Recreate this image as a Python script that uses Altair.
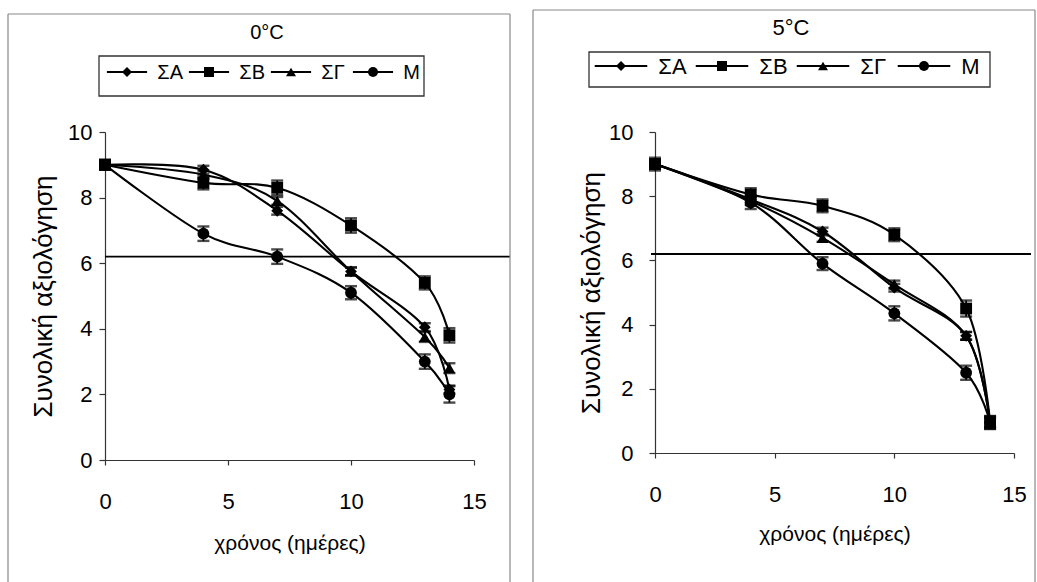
import altair as alt
import pandas as pd

# ---------------- data ----------------
days = [0, 4, 7, 10, 13, 14]
series = ["ΣΑ", "ΣΒ", "ΣΓ", "Μ"]
shapes = ["diamond", "square", "triangle-up", "circle"]

# 0 °C
sa_0 = [9.0, 8.85, 7.6, 5.75, 4.05, 2.15]
sb_0 = [9.0, 8.45, 8.3, 7.15, 5.4, 3.8]
sg_0 = [9.0, 8.7, 7.9, 5.75, 3.75, 2.8]
m_0 = [9.0, 6.9, 6.2, 5.1, 3.0, 2.0]
err_sa_0 = [0.1, 0.12, 0.12, 0.12, 0.12, 0.12]
err_sb_0 = [0.15, 0.2, 0.22, 0.22, 0.2, 0.22]
err_sg_0 = [0.1, 0.12, 0.12, 0.12, 0.15, 0.15]
err_m_0 = [0.15, 0.22, 0.22, 0.2, 0.22, 0.25]

# 5 °C
sa_5 = [9.0, 7.9, 6.9, 5.15, 3.65, 0.95]
sb_5 = [9.0, 8.05, 7.7, 6.8, 4.5, 0.95]
sg_5 = [9.0, 7.85, 6.7, 5.25, 3.65, 0.95]
m_5 = [9.0, 7.8, 5.9, 4.35, 2.5, 0.95]
err_sa_5 = [0.1, 0.12, 0.12, 0.12, 0.12, 0.15]
err_sb_5 = [0.2, 0.2, 0.2, 0.2, 0.25, 0.2]
err_sg_5 = [0.1, 0.12, 0.12, 0.12, 0.12, 0.15]
err_m_5 = [0.15, 0.2, 0.2, 0.22, 0.22, 0.2]

threshold = 6.2
x_ticks = [0, 5, 10, 15]
y_ticks = [0, 2, 4, 6, 8, 10]
x_title = "χρόνος (ημέρες)"
y_title = "Συνολική αξιολόγηση"

FONT = "Liberation Sans"
INK = "#000000"


def long_df(vals, errs):
    rows = []
    for s, v, e in zip(series, vals, errs):
        for d, y, er in zip(days, v, e):
            rows.append({"day": d, "series": s, "value": y, "lo": y - er, "hi": y + er})
    return pd.DataFrame(rows)


legend_df = pd.DataFrame({"name": series, "i": list(range(len(series)))})

shape_scale = alt.Scale(domain=series, range=shapes)


def panel(vals, errs, g):
    df = long_df(vals, errs)
    xax = alt.Axis(values=x_ticks, title=x_title, grid=False, tickSize=5,
                   labelPadding=g["xlabpad"], titlePadding=g["xtitpad"], labelFlush=False,
                   titleFontSize=21)
    yax = alt.Axis(values=y_ticks, title=y_title, grid=False, tickSize=6,
                   labelPadding=g["ylabpad"], titlePadding=g["ytitpad"], titleFontSize=26)
    X = alt.X("day:Q", scale=alt.Scale(domain=[0, 15], nice=False), axis=xax)
    Y = alt.Y("value:Q", scale=alt.Scale(domain=[0, 10], nice=False), axis=yax)
    Ylo = alt.Y("lo:Q", scale=alt.Scale(domain=[0, 10], nice=False), axis=yax)
    Yhi = alt.Y("hi:Q", scale=alt.Scale(domain=[0, 10], nice=False), axis=yax)

    base = alt.Chart(df)
    lines = base.mark_line(interpolate="cardinal", color="black", strokeWidth=2.1).encode(
        x=X, y=Y, detail="series:N")
    bars = base.mark_rule(color="black", strokeWidth=1.8).encode(x=X, y=Ylo, y2="hi:Q")
    cap_lo = base.mark_tick(orient="horizontal", color="black", size=12, thickness=2.4).encode(x=X, y=Ylo)
    cap_hi = base.mark_tick(orient="horizontal", color="black", size=12, thickness=2.4).encode(x=X, y=Yhi)
    pts = base.mark_point(filled=True, color="black", opacity=1, size=140).encode(
        x=X, y=Y, shape=alt.Shape("series:N", scale=shape_scale, legend=None))
    thr = alt.Chart(pd.DataFrame({"t": [threshold]})).mark_rule(color="black", strokeWidth=1.9).encode(
        y=alt.Y("t:Q", scale=alt.Scale(domain=[0, 10], nice=False), axis=yax),
        x=alt.value(g["thr_x0"]), x2=alt.value(g["thr_x1"]))
    main = alt.layer(lines, bars, cap_lo, cap_hi, pts, thr)

    # custom legend (line-marker-line + label)
    lsc = alt.Scale(domain=[0, 3], range=[g["leg_m0"], g["leg_m3"]])
    lb = alt.Chart(legend_df).transform_calculate(
        l=f"datum.i - {g['leg_half']}", r=f"datum.i + {g['leg_half']}", t=f"datum.i + {g['leg_txt']}")
    lrule = lb.mark_rule(color="black", strokeWidth=1.8).encode(
        x=alt.X("l:Q", scale=lsc, axis=None), x2="r:Q", y=alt.value(g["leg_y"]))
    lpts = lb.mark_point(filled=True, color="black", opacity=1, size=100).encode(
        x=alt.X("i:Q", scale=lsc, axis=None), y=alt.value(g["leg_y"]),
        shape=alt.Shape("name:N", scale=shape_scale, legend=None))
    ltxt = lb.mark_text(align="left", baseline="middle", font=FONT, fontSize=g["leg_fs"], color=INK).encode(
        x=alt.X("t:Q", scale=lsc, axis=None), y=alt.value(g["leg_y"] + 1), text="name:N")
    legend = alt.layer(lrule, lpts, ltxt)

    one = alt.Chart(pd.DataFrame({"k": [0]}))
    box = one.mark_rect(fillOpacity=0, stroke="#333333", strokeWidth=1.3).encode(
        x=alt.value(g["box"][0]), x2=alt.value(g["box"][1]),
        y=alt.value(g["box"][2]), y2=alt.value(g["box"][3]))
    b = g["border"]
    fr_top = one.mark_rule(color="#888888", strokeWidth=1.2).encode(
        x=alt.value(b[0]), x2=alt.value(b[1]), y=alt.value(b[2]), y2=alt.value(b[2]))
    fr_l = one.mark_rule(color="#888888", strokeWidth=1.2).encode(
        x=alt.value(b[0]), x2=alt.value(b[0]), y=alt.value(b[2]), y2=alt.value(b[3]))
    fr_r = one.mark_rule(color="#888888", strokeWidth=1.2).encode(
        x=alt.value(b[1]), x2=alt.value(b[1]), y=alt.value(b[2]), y2=alt.value(b[3]))
    ttl = one.mark_text(font=FONT, fontSize=g["title_fs"], color=INK, baseline="middle").encode(
        x=alt.value(g["title_xy"][0]), y=alt.value(g["title_xy"][1]), text=alt.value(g["title"]))
    deco = alt.layer(box, fr_top, fr_l, fr_r, ttl)

    return alt.layer(main, legend, deco).resolve_scale(x="independent").properties(
        width=g["w"], height=g["h"])


g0 = dict(w=369, h=328, xlabpad=26, xtitpad=20, ylabpad=7, ytitpad=11,
          thr_x0=0, thr_x1=405,
          leg_m0=22, leg_m3=268, leg_half=0.245, leg_txt=0.37, leg_y=-60, leg_fs=20,
          box=[-6, 319, -76, -36], border=[-97, 405, -118, 450],
          title_xy=[162, -99], title="0°C", title_fs=20)
g5 = dict(w=359, h=321, xlabpad=26, xtitpad=18, ylabpad=16, ytitpad=4,
          thr_x0=-4, thr_x1=376,
          leg_m0=-34, leg_m3=269, leg_half=0.26, leg_txt=0.37, leg_y=-66, leg_fs=22,
          box=[-66, 335, -80, -45], border=[-122, 380, -122, 450],
          title_xy=[136, -104], title="5°C", title_fs=22)

left = panel([sa_0, sb_0, sg_0, m_0], [err_sa_0, err_sb_0, err_sg_0, err_m_0], g0)
right = panel([sa_5, sb_5, sg_5, m_5], [err_sa_5, err_sb_5, err_sg_5, err_m_5], g5)

chart = alt.hconcat(left, right, spacing=21).properties(
    padding={"left": 7, "top": 9, "right": 0, "bottom": 0},
    background="white",
).configure_view(stroke=None).configure_axis(
    domainColor="#333333", tickColor="#333333", domainWidth=1.2, tickWidth=1.2,
    labelFont=FONT, labelFontSize=22, labelColor=INK,
    titleFont=FONT, titleFontSize=20, titleFontWeight="normal", titleColor=INK,
)

chart.save("out.html", embed_options={"renderer": "svg", "actions": False})
